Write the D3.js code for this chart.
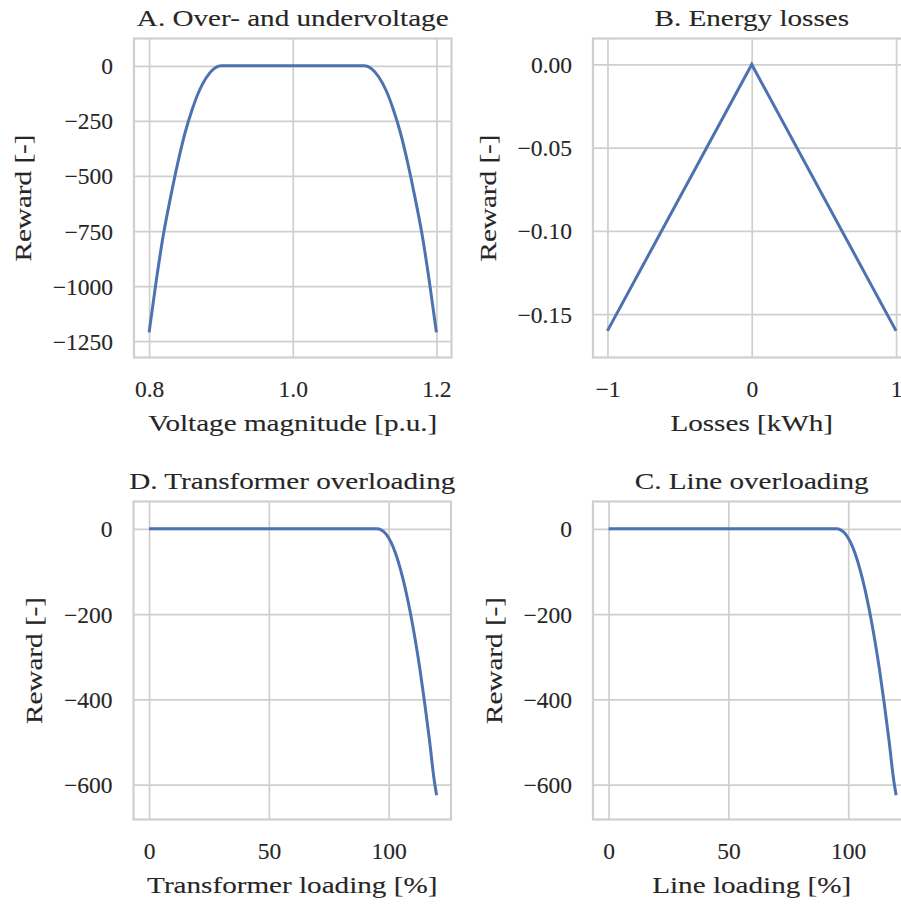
<!DOCTYPE html>
<html>
<head>
<meta charset="utf-8">
<script src="https://cdn.jsdelivr.net/npm/d3@7"></script>
<style>
  body { margin: 0; background: #fff; }
  svg text {
    font-family: "Liberation Serif", "DejaVu Serif", serif;
    fill: #262626;
    stroke: #262626;
    stroke-width: 0.12px;
  }
</style>
</head>
<body>
<svg id="chart" width="901" height="907"></svg>
<script>
// A. over- and undervoltage
const voltage = [0.80, 0.81, 0.82, 0.83, 0.84, 0.85, 0.86, 0.87, 0.88, 0.89, 0.90, 1.00,
  1.10, 1.11, 1.12, 1.13, 1.14, 1.15, 1.16, 1.17, 1.18, 1.19, 1.20];
const voltageReward = [-1210, -975, -765, -595, -440, -305, -198, -112, -52, -14, 0, 0,
  0, -14, -52, -112, -198, -305, -440, -595, -765, -975, -1210];
const voltageTicks = [0.8, 1.0, 1.2];
const voltageRewardTicks = [0, -250, -500, -750, -1000, -1250];

// B. energy losses
const losses = [-1, 0, 1];
const lossesReward = [-0.16, 0, -0.16];
const lossesTicks = [-1, 0, 1];
const lossesRewardTicks = [0, -0.05, -0.10, -0.15];

// D. transformer overloading
const trafoLoading = [0, 50, 95, 97, 99, 101, 103, 105, 107, 109, 111, 113, 115, 117, 119, 120];
const trafoReward = [0, 0, 0, -3, -13, -32, -60, -97, -142, -196, -258, -328, -408, -495, -590, -625];

// C. line overloading
const lineLoading = [0, 50, 95, 97, 99, 101, 103, 105, 107, 109, 111, 113, 115, 117, 119, 120];
const lineReward = [0, 0, 0, -3, -13, -32, -60, -97, -142, -196, -258, -328, -408, -495, -590, -625];

const loadingTicks = [0, 50, 100];
const loadingRewardTicks = [0, -200, -400, -600];

// panel layout, one per subplot
const panels = [
  { title: 'A. Over- and undervoltage', xLabel: 'Voltage magnitude [p.u.]',
    x: voltage, y: voltageReward, xTicks: voltageTicks, yTicks: voltageRewardTicks,
    xDomain: [0.779, 1.221], yDomain: [-1324, 124], xFormat: '.1f', yFormat: 'd',
    left: 134, top: 38.5, height: 319, curve: d3.curveMonotoneX },
  { title: 'B. Energy losses', xLabel: 'Losses [kWh]',
    x: losses, y: lossesReward, xTicks: lossesTicks, yTicks: lossesRewardTicks,
    xDomain: [-1.1, 1.1], yDomain: [-0.176, 0.0156], xFormat: 'd', yFormat: '.2f',
    left: 593, top: 38.5, height: 319, curve: d3.curveLinear },
  { title: 'D. Transformer overloading', xLabel: 'Transformer loading [%]',
    x: trafoLoading, y: trafoReward, xTicks: loadingTicks, yTicks: loadingRewardTicks,
    xDomain: [-6.5, 126], yDomain: [-682, 64], xFormat: 'd', yFormat: 'd',
    left: 133.5, top: 501.5, height: 318, curve: d3.curveMonotoneX },
  { title: 'C. Line overloading', xLabel: 'Line loading [%]',
    x: lineLoading, y: lineReward, xTicks: loadingTicks, yTicks: loadingRewardTicks,
    xDomain: [-6.5, 126], yDomain: [-682, 64], xFormat: 'd', yFormat: 'd',
    left: 593, top: 501.5, height: 318, curve: d3.curveMonotoneX }
];

const width = 317.5;
const fontSize = 23.5;
const stretch = 1.24; // Palatino is wider than the serif we have
const gridColor = '#cfcfcf';
const lineColor = '#4c72b0';

const svg = d3.select('#chart');

// widen a text node so it takes the room the original font took
const widen = (sel) => {
  const len = sel.node().getComputedTextLength();
  sel.attr('textLength', len * stretch).attr('lengthAdjust', 'spacingAndGlyphs');
};

panels.forEach((p) => {
  const g = svg.append('g').attr('transform', `translate(${p.left}, ${p.top})`);

  const xScale = d3.scaleLinear().domain(p.xDomain).range([0, width]);
  const yScale = d3.scaleLinear().domain(p.yDomain).range([p.height, 0]);

  // grid lines
  g.append('g')
    .attr('transform', `translate(0, ${p.height})`)
    .call(d3.axisBottom(xScale).tickValues(p.xTicks).tickSize(-p.height).tickFormat(''))
    .call((a) => a.select('.domain').remove())
    .selectAll('line').attr('stroke', gridColor).attr('stroke-width', 1.7);

  g.append('g')
    .call(d3.axisLeft(yScale).tickValues(p.yTicks).tickSize(-width).tickFormat(''))
    .call((a) => a.select('.domain').remove())
    .selectAll('line').attr('stroke', gridColor).attr('stroke-width', 1.7);

  // the curve
  const line = d3.line()
    .x((d, i) => xScale(p.x[i]))
    .y((d, i) => yScale(p.y[i]))
    .curve(p.curve);

  g.append('path')
    .datum(p.y)
    .attr('d', line)
    .attr('fill', 'none')
    .attr('stroke', lineColor)
    .attr('stroke-width', 3);

  // frame
  g.append('rect')
    .attr('width', width)
    .attr('height', p.height)
    .attr('fill', 'none')
    .attr('stroke', gridColor)
    .attr('stroke-width', 2.2);

  // tick labels
  g.append('g')
    .attr('transform', `translate(0, ${p.height})`)
    .call(d3.axisBottom(xScale).tickValues(p.xTicks).tickSize(0).tickPadding(23)
      .tickFormat(d3.format(p.xFormat)))
    .call((a) => a.select('.domain').remove())
    .attr('font-size', null).attr('font-family', null)
    .selectAll('text').attr('font-size', fontSize);

  const yAxis = g.append('g')
    .call(d3.axisLeft(yScale).tickValues(p.yTicks).tickSize(0).tickPadding(21)
      .tickFormat(d3.format(p.yFormat)))
    .call((a) => a.select('.domain').remove())
    .attr('font-size', null).attr('font-family', null);
  yAxis.selectAll('text').attr('font-size', fontSize).attr('dy', '0.34em');

  // title
  g.append('text')
    .attr('x', width / 2)
    .attr('y', -12.5)
    .attr('text-anchor', 'middle')
    .attr('font-size', fontSize)
    .text(p.title)
    .call(widen);

  // x axis label
  g.append('text')
    .attr('x', width / 2)
    .attr('y', p.height + 73.5)
    .attr('text-anchor', 'middle')
    .attr('font-size', fontSize)
    .text(p.xLabel)
    .call(widen);

  // y axis label sits left of the widest tick label
  const box = yAxis.node().getBBox();
  const labelX = box.x - 21.5;
  g.append('text')
    .attr('transform', `translate(${labelX}, ${p.height / 2}) rotate(-90)`)
    .attr('text-anchor', 'middle')
    .attr('font-size', fontSize)
    .text('Reward [-]')
    .call(widen);
});
</script>
</body>
</html>
